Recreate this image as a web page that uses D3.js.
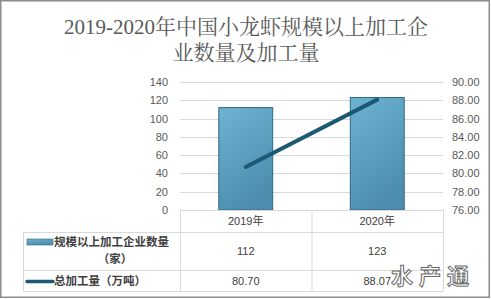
<!DOCTYPE html>
<html>
<head>
<meta charset="utf-8">
<script src="https://cdn.jsdelivr.net/npm/d3@7/dist/d3.min.js"></script>
<style>
  body { margin: 0; background: #fff; }
  svg { display: block; }
</style>
</head>
<body>
<svg id="chart" width="491" height="299"></svg>
<script>
var categories = ['2019年', '2020年'];
var companyCount = [112, 123];
var totalOutput = [80.70, 88.07];
var leftTicks = [0, 20, 40, 60, 80, 100, 120, 140];
var rightTicks = [76, 78, 80, 82, 84, 86, 88, 90];
var seriesNames = ['规模以上加工企业数量', '总加工量（万吨）'];

var svg = d3.select('#chart');
var labelFont = '"Liberation Sans", "Noto Sans CJK SC", sans-serif';
var cjkFont = '"Noto Sans CJK SC", sans-serif';

// outer frame
svg.append('rect')
	.attr('x', 0.75).attr('y', 0.75).attr('width', 488.5).attr('height', 296.5)
	.attr('fill', '#fff').attr('stroke', '#8c8c8c').attr('stroke-width', 1.5);

// title
var title = svg.append('text')
	.attr('text-anchor', 'middle')
	.attr('fill', '#595959')
	.style('font-family', '"Liberation Serif", "Noto Serif CJK SC", "Noto Sans CJK SC", serif')
	.style('font-size', '21px');
title.append('tspan').attr('x', 246).attr('y', 34).text('2019-2020年中国小龙虾规模以上加工企');
title.append('tspan').attr('x', 246).attr('y', 60).text('业数量及加工量');

var x0 = 180, x1 = 443, yTop = 82, yBase = 210;

var xCol = d3.scaleBand().domain(categories).range([x0, x1]).padding(0);
var yLeft = d3.scaleLinear().domain([0, 140]).range([yBase, yTop]);
var yRight = d3.scaleLinear().domain([76, 90]).range([yBase, yTop]);

// gridlines
svg.append('g').selectAll('line').data(leftTicks.filter(function(d) { return d > 0; }))
	.enter().append('line')
	.attr('x1', x0).attr('x2', x1)
	.attr('y1', function(d) { return Math.round(yLeft(d)) + 0.5; })
	.attr('y2', function(d) { return Math.round(yLeft(d)) + 0.5; })
	.attr('stroke', '#d9d9d9').attr('stroke-width', 1);

// left axis
var gl = svg.append('g').attr('transform', 'translate(' + (x0 + 2) + ',0)')
	.call(d3.axisLeft(yLeft).tickValues(leftTicks).tickSize(0).tickPadding(14));
gl.select('.domain').remove();
gl.selectAll('text').attr('fill', '#595959').style('font-family', labelFont).style('font-size', '11px');

// right axis
var gr = svg.append('g').attr('transform', 'translate(' + (x1 + 2) + ',0)')
	.call(d3.axisRight(yRight).tickValues(rightTicks).tickSize(0).tickPadding(7).tickFormat(d3.format('.2f')));
gr.select('.domain').remove();
gr.selectAll('text').attr('fill', '#595959').style('font-family', labelFont).style('font-size', '11px');

// bar gradient
var defs = svg.append('defs');
var grad = defs.append('linearGradient').attr('id', 'barGrad')
	.attr('x1', '0').attr('y1', '0').attr('x2', '0.4').attr('y2', '1');
grad.append('stop').attr('offset', '0%').attr('stop-color', '#6db3d2');
grad.append('stop').attr('offset', '100%').attr('stop-color', '#4d8eae');

var barW = xCol.bandwidth() * 0.41;
svg.append('g').selectAll('rect').data(companyCount)
	.enter().append('rect')
	.attr('x', function(d, i) { return xCol(categories[i]) + xCol.bandwidth() / 2 - barW / 2; })
	.attr('y', function(d) { return yLeft(d); })
	.attr('width', barW)
	.attr('height', function(d) { return yLeft(0) - yLeft(d); })
	.attr('fill', 'url(#barGrad)')
	.attr('stroke', '#2f6985').attr('stroke-width', 1);

// line
var line = d3.line()
	.x(function(d, i) { return xCol(categories[i]) + xCol.bandwidth() / 2; })
	.y(function(d) { return yRight(d); });
svg.append('path').datum(totalOutput)
	.attr('d', line)
	.attr('fill', 'none').attr('stroke', '#1b5a72').attr('stroke-width', 4)
	.attr('stroke-linecap', 'round');

// data table
var rowH = [yBase, 232, 270, 291];
var tLeft = 23;
var grid = svg.append('g').attr('stroke', '#d9d9d9').attr('stroke-width', 1);
grid.append('line').attr('x1', x0).attr('x2', x1).attr('y1', yBase + 0.5).attr('y2', yBase + 0.5);
[232, 270, 291].forEach(function(y) {
	grid.append('line').attr('x1', tLeft).attr('x2', x1).attr('y1', y + 0.5).attr('y2', y + 0.5);
});
grid.append('line').attr('x1', tLeft + 0.5).attr('x2', tLeft + 0.5).attr('y1', 232).attr('y2', 291);
[x0, xCol(categories[1]), x1].forEach(function(x) {
	grid.append('line').attr('x1', x + 0.5).attr('x2', x + 0.5).attr('y1', yBase).attr('y2', 291);
});

var cellText = svg.append('g').attr('fill', '#404040').attr('text-anchor', 'middle')
	.style('font-family', labelFont).style('font-size', '11px');
categories.forEach(function(c, i) {
	var cx = xCol(c) + xCol.bandwidth() / 2;
	cellText.append('text').attr('x', cx).attr('y', 225).text(c);
	cellText.append('text').attr('x', cx).attr('y', 255).text(companyCount[i]);
	cellText.append('text').attr('x', cx).attr('y', 285).text(totalOutput[i].toFixed(2));
});

// legend keys
svg.append('rect').attr('x', 27).attr('y', 239).attr('width', 26).attr('height', 6)
	.attr('fill', 'url(#barGrad)').attr('stroke', '#2f6985').attr('stroke-width', 0.6);
svg.append('line').attr('x1', 27).attr('x2', 53).attr('y1', 281.5).attr('y2', 281.5)
	.attr('stroke', '#1b5a72').attr('stroke-width', 3.5).attr('stroke-linecap', 'round');

var legText = svg.append('g').attr('fill', '#404040')
	.style('font-family', cjkFont).style('font-size', '11.5px').style('font-weight', 'bold');
legText.append('text').attr('x', 54).attr('y', 246).text(seriesNames[0]);
legText.append('text').attr('x', 115).attr('y', 263).attr('text-anchor', 'middle').text('（家）');
legText.append('text').attr('x', 54).attr('y', 285).text(seriesNames[1]);

// watermark
svg.append('text').attr('x', 433).attr('y', 284).attr('text-anchor', 'middle')
	.attr('fill', '#fff').attr('stroke', '#6a6a6a').attr('stroke-width', 1)
	.style('font-family', cjkFont).style('font-size', '22px').style('font-weight', 'bold')
	.style('letter-spacing', '6px')
	.text('水产通');
</script>
</body>
</html>
